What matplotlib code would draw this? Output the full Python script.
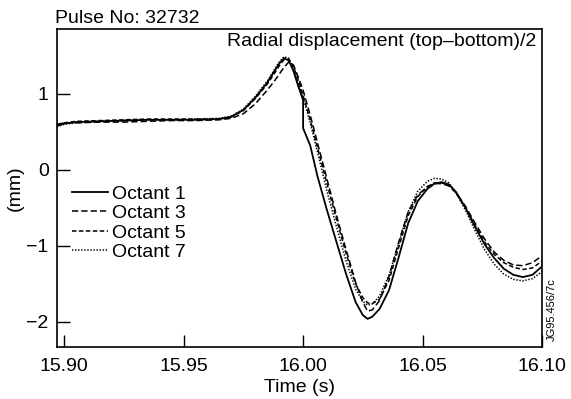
import numpy as np
import matplotlib
matplotlib.use("Agg")
import matplotlib.pyplot as plt

plt.rcParams['font.family'] = ['Liberation Sans', 'DejaVu Sans']
plt.rcParams['lines.scale_dashes'] = False

# time base (s); 16.000 appears twice for the step in octant 1
time = [15.897, 15.900, 15.905, 15.915, 15.925, 15.935, 15.945, 15.955, 15.965,
        15.970, 15.975, 15.980, 15.985, 15.988, 15.990, 15.992, 15.994, 15.996,
        15.998, 16.000, 16.000, 16.003, 16.006, 16.010, 16.014, 16.018, 16.022,
        16.025, 16.027, 16.029, 16.032, 16.036, 16.040, 16.044, 16.048, 16.052,
        16.055, 16.058, 16.061, 16.064, 16.068, 16.072, 16.076, 16.080, 16.084,
        16.088, 16.092, 16.096, 16.100]

octant1 = [0.58, 0.61, 0.63, 0.64, 0.65, 0.66, 0.66, 0.66, 0.67,
           0.70, 0.79, 0.95, 1.15, 1.30, 1.40, 1.47, 1.44, 1.30,
           1.10, 0.92, 0.55, 0.32, -0.08, -0.53, -0.95, -1.37, -1.74,
           -1.91, -1.96, -1.93, -1.83, -1.58, -1.15, -0.70, -0.41, -0.25,
           -0.18, -0.16, -0.19, -0.29, -0.50, -0.75, -0.98, -1.16, -1.30,
           -1.38, -1.41, -1.38, -1.27]

octant3 = [0.60, 0.62, 0.62, 0.63, 0.63, 0.64, 0.65, 0.65, 0.66,
           0.68, 0.74, 0.87, 1.05, 1.17, 1.26, 1.35, 1.42, 1.38,
           1.22, 1.05, 1.05, 0.72, 0.36, -0.12, -0.60, -1.05, -1.48,
           -1.74, -1.86, -1.84, -1.72, -1.40, -0.95, -0.55, -0.33, -0.22,
           -0.18, -0.18, -0.21, -0.30, -0.48, -0.70, -0.91, -1.08, -1.19,
           -1.25, -1.26, -1.22, -1.13]

octant5 = [0.59, 0.62, 0.64, 0.65, 0.66, 0.67, 0.67, 0.67, 0.67,
           0.70, 0.78, 0.94, 1.13, 1.27, 1.37, 1.45, 1.46, 1.36,
           1.18, 0.98, 0.98, 0.66, 0.30, -0.18, -0.65, -1.10, -1.50,
           -1.68, -1.75, -1.76, -1.70, -1.45, -1.02, -0.60, -0.35, -0.22,
           -0.17, -0.17, -0.20, -0.30, -0.50, -0.73, -0.95, -1.11, -1.22,
           -1.28, -1.31, -1.29, -1.20]

octant7 = [0.57, 0.60, 0.62, 0.64, 0.65, 0.66, 0.66, 0.67, 0.68,
           0.71, 0.80, 0.97, 1.17, 1.32, 1.42, 1.49, 1.47, 1.34,
           1.15, 0.95, 0.95, 0.62, 0.24, -0.28, -0.75, -1.20, -1.57,
           -1.73, -1.78, -1.76, -1.66, -1.38, -0.97, -0.55, -0.28, -0.15,
           -0.11, -0.12, -0.17, -0.30, -0.53, -0.80, -1.05, -1.24, -1.37,
           -1.44, -1.46, -1.43, -1.34]

xticks = [15.90, 15.95, 16.00, 16.05, 16.10]
yticks = [-2, -1, 0, 1]
ytick_labels = ['\u22122', '\u22121', '0', '1']

fig = plt.figure(figsize=(5.71, 3.99), dpi=100)
ax = fig.add_axes([57/571, 52/399, 485/571, 318/399])

ax.plot(time, octant1, color='black', lw=1.3, ls='-', label='Octant 1')
ax.plot(time, octant3, color='black', lw=1.1, ls=(0, (4.5, 2.2)), label='Octant 3')
ax.plot(time, octant5, color='black', lw=1.1, ls=(0, (3.2, 1.8)), label='Octant 5')
ax.plot(time, octant7, color='black', lw=1.1, ls=(0, (1.0, 1.2)), label='Octant 7')

ax.set_xlim(15.897, 16.1)
ax.set_ylim(-2.33, 1.855)
ax.set_xticks(xticks)
ax.set_xticklabels([f"{t:.2f}" for t in xticks])
ax.set_yticks(yticks)
ax.set_yticklabels(ytick_labels)
ax.tick_params(direction='in', length=9, width=1, labelsize=14, pad=6)
ax.tick_params(axis='x', pad=8)
for s in ax.spines.values():
    s.set_linewidth(1.2)

ax.set_xlabel('Time (s)', fontsize=14, labelpad=3)
ax.set_ylabel('(mm)', fontsize=14, labelpad=2)

ax.text(-0.004, 1.005, 'Pulse No: 32732', transform=ax.transAxes,
        ha='left', va='bottom', fontsize=14)
ax.text(0.988, 0.988, 'Radial displacement (top\u2013bottom)/2', transform=ax.transAxes,
        ha='right', va='top', fontsize=14)
# scan reference code along the right edge
ax.text(552/571, 1 - 310/399, 'JG95.456/7c', transform=fig.transFigure,
        rotation=90, ha='center', va='center', fontsize=8)

ax.legend(loc='upper left', bbox_to_anchor=(72/571, 1 - 185/399),
          bbox_transform=fig.transFigure, frameon=False, fontsize=14,
          handlelength=1.85, handletextpad=0.2, labelspacing=0.1,
          borderpad=0, borderaxespad=0)

fig.savefig('out.png', dpi=100)
